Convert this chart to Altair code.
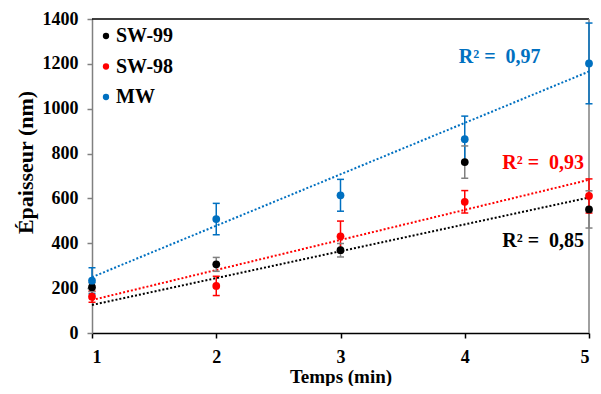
import altair as alt
import pandas as pd

times = [1, 2, 3, 4, 5]
series = ["SW-99", "SW-98", "MW"]
colors = ["#000000", "#FF0000", "#0070C0"]
err_colors = ["#808080", "#FF0000", "#0070C0"]

sw99 = [204, 306, 369, 762, 551]
sw98 = [162, 210, 431, 585, 611]
mw = [233, 508, 614, 864, 1202]

sw99_err = [20, 31, 30, 72, 83]
sw98_err = [25, 43, 68, 50, 76]
mw_err = [58, 70, 71, 103, 180]

# trend line end values read at t=1 and t=5
trend_start = [125, 147, 249]
trend_end = [604, 683, 1166]

r2_labels = ["R²\u00a0=\u00a0\u00a00,85", "R²\u00a0=\u00a0\u00a00,93", "R²\u00a0=\u00a0\u00a00,97"]
r2_x = [4.96, 4.96, 4.61]
r2_y = [410, 760, 1230]

rows = []
for name, vals, errs, ec in zip(series, [sw99, sw98, mw], [sw99_err, sw98_err, mw_err], err_colors):
    for t, v, e in zip(times, vals, errs):
        rows.append({"t": t, "v": v, "lo": v - e, "hi": v + e, "serie": name, "ec": ec})
df = pd.DataFrame(rows)

trend_rows = []
for name, s, e in zip(series, trend_start, trend_end):
    trend_rows.append({"t": times[0], "v": s, "serie": name})
    trend_rows.append({"t": times[-1], "v": e, "serie": name})
tdf = pd.DataFrame(trend_rows)

ldf = pd.DataFrame({"t": r2_x, "v": r2_y, "serie": series, "label": r2_labels})

FONT = "Liberation Serif"
xs = alt.Scale(domain=[1, 5], nice=False)
ys = alt.Scale(domain=[0, 1400], nice=False)
cs = alt.Scale(domain=series, range=colors)

X = alt.X("t:Q", scale=xs, axis=alt.Axis(
    values=times, format="d", title="Temps (min)", grid=False,
    domainColor="#000000", domainWidth=1.5, tickColor="#000000", tickSize=5, tickWidth=1.5,
    labelFont=FONT, labelFontWeight="bold", labelFontSize=18, labelColor="#000000", labelPadding=10,
    titleFont=FONT, titleFontWeight="bold", titleFontSize=19, titleColor="#000000",
    titleY=43, titleBaseline="middle"))
Y = alt.Y("v:Q", scale=ys, axis=alt.Axis(
    values=list(range(0, 1401, 200)), format="d", title="Épaisseur (nm)", grid=False,
    domainColor="#808080", domainWidth=1.5, tickColor="#808080", tickSize=5, tickWidth=1.5,
    labelFont=FONT, labelFontWeight="bold", labelFontSize=18, labelColor="#000000", labelPadding=9,
    titleFont=FONT, titleFontWeight="bold", titleFontSize=22, titleColor="#000000",
    titleX=-67, titleY=143, titleBaseline="middle", titleAngle=-90, titleAlign="center"))

base = alt.Chart(df)

top_rule = alt.Chart(pd.DataFrame({"t": [1], "t2": [5], "v": [1400]})).mark_rule(
    color="#000000", strokeWidth=1.5).encode(x=alt.X("t:Q", scale=xs), x2="t2:Q", y=alt.Y("v:Q", scale=ys))
right_rule = alt.Chart(pd.DataFrame({"t": [5], "v": [0], "v2": [1400]})).mark_rule(
    color="#808080", strokeWidth=1.5).encode(x=alt.X("t:Q", scale=xs), y=alt.Y("v:Q", scale=ys), y2="v2:Q")

trend = alt.Chart(tdf).mark_line(strokeDash=[2, 2], strokeWidth=2).encode(
    x=X, y=Y, color=alt.Color("serie:N", scale=cs, legend=None), detail="serie:N")

err_line = base.mark_rule(strokeWidth=1.5).encode(
    x=alt.X("t:Q", scale=xs), y=alt.Y("lo:Q", scale=ys), y2="hi:Q",
    color=alt.Color("ec:N", scale=None))
cap_hi = base.mark_rule(strokeWidth=1.5, xOffset=-3.5, x2Offset=3.5).encode(
    x=alt.X("t:Q", scale=xs), x2="t:Q", y=alt.Y("hi:Q", scale=ys),
    color=alt.Color("ec:N", scale=None))
cap_lo = base.mark_rule(strokeWidth=1.5, xOffset=-3.5, x2Offset=3.5).encode(
    x=alt.X("t:Q", scale=xs), x2="t:Q", y=alt.Y("lo:Q", scale=ys),
    color=alt.Color("ec:N", scale=None))

pts = base.mark_circle(size=60, opacity=1).encode(
    x=X, y=Y,
    color=alt.Color("serie:N", scale=cs, legend=alt.Legend(
        title=None, orient="none", legendX=4, legendY=7, padding=0,
        symbolType="circle", symbolSize=40, symbolStrokeWidth=0, rowPadding=10.5,
        labelFont=FONT, labelFontWeight="bold", labelFontSize=20, labelColor="#000000",
        labelOffset=0)))

labels = alt.Chart(ldf).mark_text(
    font=FONT, fontWeight="bold", fontSize=20, align="right", baseline="middle").encode(
    x=alt.X("t:Q", scale=xs), y=alt.Y("v:Q", scale=ys),
    color=alt.Color("serie:N", scale=cs, legend=None), text="label:N")

chart = alt.layer(top_rule, right_rule, trend, err_line, cap_hi, cap_lo, pts, labels).properties(
    width=497, height=314,
    autosize=alt.AutoSizeParams(type="none"),
    padding={"left": 84, "top": 11, "right": 4, "bottom": 53},
).configure_view(stroke=None).resolve_scale(color="independent")

chart.save("out.html", embed_options={"renderer": "svg", "actions": False})
